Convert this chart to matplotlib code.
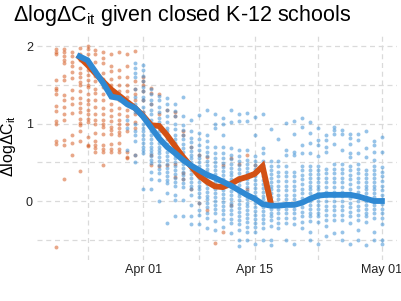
import matplotlib
matplotlib.use("Agg")
import matplotlib.pyplot as plt
import matplotlib.dates as mdates
import numpy as np

# --- Data ---
# scatter columns: one list of values per day
orange_dates = ["2020-03-21", "2020-03-22", "2020-03-23", "2020-03-24", "2020-03-25",
                "2020-03-26", "2020-03-27", "2020-03-28", "2020-03-29", "2020-03-30",
                "2020-03-31", "2020-04-01", "2020-04-02", "2020-04-03", "2020-04-04",
                "2020-04-05", "2020-04-06", "2020-04-07", "2020-04-08", "2020-04-09",
                "2020-04-10", "2020-04-11", "2020-04-12", "2020-04-13", "2020-04-14",
                "2020-04-15"]
orange_cols = [
    [1.97, 1.93, 1.90, 1.57, 1.46, 1.44, 1.38, 1.23, 1.16, 1.03, 1.00, 0.77, 0.74, -0.59],
    [1.97, 1.93, 1.88, 1.82, 1.78, 1.62, 1.57, 1.37, 1.31, 1.22, 1.12, 1.05, 0.79, 0.72, 0.29],
    [1.93, 1.87, 1.80, 1.74, 1.67, 1.59, 1.44, 1.33, 1.25, 1.14, 0.85, 0.75, 0.60],
    [1.98, 1.90, 1.83, 1.72, 1.65, 1.60, 1.54, 1.50, 1.42, 1.33, 1.27, 1.20, 1.15, 1.06, 1.01,
     0.98, 0.90, 0.77, 0.39],
    [2.00, 1.96, 1.90, 1.82, 1.76, 1.70, 1.63, 1.57, 1.50, 1.47, 1.38, 1.30, 1.25, 1.18, 1.12,
     1.06, 1.02, 0.83, 0.73, 0.71],
    [1.95, 1.90, 1.80, 1.70, 1.62, 1.55, 1.45, 1.40, 1.30, 1.22, 1.12, 1.05, 1.00, 0.88, 0.78,
     0.72, 0.68, 0.64],
    [1.93, 1.85, 1.78, 1.65, 1.58, 1.48, 1.38, 1.30, 1.20, 1.12, 1.05, 1.00, 0.96, 0.87, 0.72,
     0.67, 0.64, 0.46],
    [1.90, 1.75, 1.68, 1.58, 1.50, 1.42, 1.35, 1.25, 1.18, 1.10, 1.04, 0.96, 0.92, 0.87, 0.74,
     0.67, 0.63],
    [1.93, 1.70, 1.60, 1.50, 1.42, 1.36, 1.30, 1.20, 1.12, 1.05, 0.99, 0.95, 0.89, 0.85, 0.75,
     0.67, 0.63],
    [1.90, 1.75, 1.60, 1.50, 1.42, 1.35, 1.25, 1.18, 1.10, 1.00, 0.90, 0.63, 0.57, 0.55],
    [1.94, 1.55, 1.45, 1.38, 1.30, 1.20, 1.12, 1.02, 0.95, 0.60],
    [1.60, 1.55, 1.50, 1.42, 1.30, 1.15],
    [1.46, 1.40, 1.25, 0.60, 0.47],
    [1.39, 1.13, 0.45],
    [1.18, 0.85, 0.47],
    [1.15, 1.10, 0.48, 0.31],
    [0.90, 0.86, 0.36, 0.29],
    [0.70, 0.16],
    [0.60, -0.03],
    [0.57, -0.12],
    [0.30, -0.54],
    [0.47, -0.40],
    [0.55, -0.05],
    [0.48],
    [0.60, 0.15],
    [0.47],
]

blue_dates = ["2020-03-30", "2020-03-31", "2020-04-01", "2020-04-02", "2020-04-03",
              "2020-04-04", "2020-04-05", "2020-04-06", "2020-04-07", "2020-04-08",
              "2020-04-09", "2020-04-10", "2020-04-11", "2020-04-12", "2020-04-13",
              "2020-04-14", "2020-04-15", "2020-04-16", "2020-04-17", "2020-04-18",
              "2020-04-19", "2020-04-20", "2020-04-21", "2020-04-22", "2020-04-23",
              "2020-04-24", "2020-04-25", "2020-04-26", "2020-04-27", "2020-04-28",
              "2020-04-29", "2020-04-30", "2020-05-01"]
blue_cols = [
    [1.05, 0.95, 0.66],
    [1.78, 1.72, 1.65, 1.60, 1.45, 1.35, 1.25, 1.15, 1.00, 0.90, 0.85, 0.78, 0.60, 0.50],
    [1.76, 1.70, 1.62, 1.55, 1.48, 1.42, 1.35, 1.30, 1.22, 1.15, 1.08, 1.00, 0.95, 0.90, 0.85,
     0.80, 0.75, 0.70, 0.66, 0.62, 0.15],
    [1.45, 1.38, 1.30, 1.25, 1.18, 1.12, 1.05, 1.00, 0.95, 0.90, 0.85, 0.80, 0.75, 0.70, 0.66,
     0.62, 0.58, 0.53, 0.49, 0.38, 0.29, 0.15],
    [1.36, 1.30, 1.22, 1.15, 1.08, 1.02, 0.96, 0.90, 0.85, 0.80, 0.75, 0.70, 0.66, 0.62, 0.57,
     0.52, 0.47, 0.42, 0.36, 0.27, 0.00],
    [1.33, 1.25, 1.18, 1.10, 1.02, 0.95, 0.90, 0.85, 0.80, 0.74, 0.68, 0.63, 0.58, 0.53, 0.48,
     0.43, 0.37, 0.32, 0.27, 0.23, 0.10, -0.29],
    [1.26, 1.16, 1.10, 1.00, 0.93, 0.86, 0.80, 0.75, 0.70, 0.65, 0.60, 0.55, 0.50, 0.45, 0.40,
     0.35, 0.30, 0.25, 0.20, 0.08, 0.01, -0.19],
    [1.35, 1.10, 0.98, 0.92, 0.85, 0.80, 0.74, 0.68, 0.63, 0.58, 0.53, 0.48, 0.43, 0.38, 0.33,
     0.28, 0.23, 0.18, 0.01, -0.19],
    [1.05, 0.90, 0.82, 0.76, 0.70, 0.65, 0.60, 0.55, 0.50, 0.45, 0.40, 0.35, 0.30, 0.25, 0.20,
     0.15, 0.08, -0.05, -0.20, -0.30],
    [1.11, 0.88, 0.80, 0.72, 0.66, 0.60, 0.55, 0.50, 0.45, 0.40, 0.35, 0.30, 0.25, 0.20, 0.15,
     0.10, 0.05, -0.03, -0.12, -0.18, -0.30],
    [1.18, 0.85, 0.78, 0.70, 0.64, 0.58, 0.52, 0.47, 0.42, 0.37, 0.32, 0.27, 0.22, 0.17, 0.12,
     0.07, 0.02, -0.03, -0.08, -0.16, -0.22, -0.35],
    [1.13, 1.00, 0.94, 0.70, 0.62, 0.56, 0.50, 0.45, 0.40, 0.35, 0.30, 0.25, 0.20, 0.15, 0.10,
     0.05, 0.00, -0.05, -0.10, -0.16, -0.26, -0.38],
    [1.07, 1.00, 0.85, 0.70, 0.62, 0.55, 0.49, 0.44, 0.39, 0.34, 0.29, 0.24, 0.19, 0.14, 0.09,
     0.04, -0.01, -0.06, -0.11, -0.17, -0.23, -0.33],
    [1.18, 1.02, 0.68, 0.60, 0.54, 0.48, 0.43, 0.38, 0.33, 0.28, 0.23, 0.18, 0.13, 0.08, 0.03,
     -0.02, -0.07, -0.12, -0.17, -0.23, -0.29, -0.42],
    [1.13, 1.03, 0.66, 0.58, 0.52, 0.46, 0.41, 0.36, 0.31, 0.26, 0.21, 0.16, 0.11, 0.06, 0.01,
     -0.04, -0.09, -0.14, -0.19, -0.24, -0.30, -0.38, -0.50, -0.58],
    [1.14, 1.03, 0.66, 0.53, 0.48, 0.43, 0.38, 0.33, 0.28, 0.23, 0.18, 0.13, 0.08, 0.03, -0.02,
     -0.07, -0.12, -0.17, -0.22, -0.27, -0.33, -0.40, -0.50],
    [1.09, 0.86, 0.58, 0.52, 0.47, 0.42, 0.37, 0.32, 0.27, 0.22, 0.17, 0.12, 0.07, 0.02, -0.03,
     -0.08, -0.13, -0.18, -0.23, -0.28, -0.33, -0.40, -0.55],
    [1.13, 0.68, 0.62, 0.52, 0.47, 0.42, 0.37, 0.32, 0.27, 0.22, 0.17, 0.12, 0.07, 0.02, -0.03,
     -0.08, -0.13, -0.18, -0.23, -0.28, -0.35, -0.50],
    [0.93, 0.52, 0.45, 0.40, 0.35, 0.30, 0.25, 0.20, 0.15, 0.10, 0.05, 0.00, -0.05, -0.10,
     -0.15, -0.20, -0.25, -0.32, -0.50, -0.57],
    [0.80, 0.52, 0.45, 0.38, 0.32, 0.26, 0.20, 0.14, 0.08, 0.02, -0.04, -0.10, -0.16, -0.22,
     -0.28, -0.35],
    [1.01, 0.66, 0.60, 0.45, 0.38, 0.32, 0.26, 0.20, 0.14, 0.08, 0.02, -0.04, -0.10, -0.16,
     -0.22, -0.28, -0.50],
    [1.04, 0.87, 0.64, 0.59, 0.38, 0.32, 0.26, 0.20, 0.14, 0.08, 0.02, -0.04, -0.10, -0.16,
     -0.22, -0.30, -0.55],
    [1.08, 0.96, 0.73, 0.62, 0.45, 0.40, 0.34, 0.28, 0.22, 0.16, 0.10, 0.04, -0.02, -0.08,
     -0.14, -0.20, -0.27, -0.35],
    [1.02, 0.88, 0.75, 0.62, 0.45, 0.40, 0.35, 0.30, 0.25, 0.20, 0.15, 0.10, 0.05, 0.00, -0.05,
     -0.10, -0.15, -0.20, -0.26, -0.40, -0.50],
    [0.94, 0.79, 0.72, 0.58, 0.45, 0.40, 0.35, 0.30, 0.25, 0.20, 0.15, 0.10, 0.05, 0.00, -0.05,
     -0.10, -0.15, -0.20, -0.27, -0.55],
    [0.85, 0.79, 0.70, 0.64, 0.42, 0.36, 0.30, 0.24, 0.18, 0.12, 0.06, 0.00, -0.06, -0.12,
     -0.18, -0.24, -0.32, -0.45],
    [0.96, 0.92, 0.87, 0.74, 0.48, 0.42, 0.36, 0.30, 0.24, 0.18, 0.12, 0.06, 0.00, -0.06,
     -0.12, -0.18, -0.25, -0.42],
    [0.92, 0.87, 0.66, 0.48, 0.42, 0.36, 0.30, 0.24, 0.18, 0.12, 0.06, 0.00, -0.06, -0.12,
     -0.18, -0.25, -0.40, -0.50],
    [0.87, 0.81, 0.74, 0.62, 0.57, 0.45, 0.40, 0.34, 0.28, 0.22, 0.16, 0.10, 0.04, -0.02,
     -0.08, -0.14, -0.20, -0.28, -0.55],
    [0.87, 0.79, 0.62, 0.48, 0.42, 0.36, 0.30, 0.24, 0.18, 0.12, 0.06, 0.00, -0.06, -0.12,
     -0.18, -0.25, -0.38, -0.50],
    [0.90, 0.68, 0.57, 0.40, 0.35, 0.30, 0.25, 0.20, 0.15, 0.10, 0.05, 0.00, -0.05, -0.10,
     -0.15, -0.20, -0.27, -0.57],
    [0.77, 0.72, 0.64, 0.53, 0.45, 0.40, 0.35, 0.30, 0.25, 0.20, 0.15, 0.10, 0.05, 0.00, -0.05,
     -0.10, -0.15, -0.22, -0.40, -0.50],
    [0.83, 0.64, 0.44, 0.38, 0.32, 0.26, 0.20, 0.14, 0.08, 0.02, -0.04, -0.10, -0.16, -0.22,
     -0.30, -0.50, -0.55],
]

# fitted lines
orange_line_dates = ["2020-03-24", "2020-03-25", "2020-03-26", "2020-03-27", "2020-03-28",
                     "2020-03-29", "2020-03-30", "2020-03-31", "2020-04-01", "2020-04-02",
                     "2020-04-03", "2020-04-04", "2020-04-05", "2020-04-06", "2020-04-07",
                     "2020-04-08", "2020-04-09", "2020-04-10", "2020-04-11", "2020-04-12",
                     "2020-04-13", "2020-04-14", "2020-04-15", "2020-04-16", "2020-04-17"]
orange_line = [1.86, 1.76, 1.65, 1.54, 1.44, 1.36, 1.28, 1.20, 1.10, 0.98, 0.97, 0.85, 0.71,
               0.57, 0.45, 0.33, 0.25, 0.19, 0.18, 0.22, 0.28, 0.31, 0.35, 0.45, -0.01]

blue_line_dates = ["2020-03-24", "2020-03-25", "2020-03-26", "2020-03-27", "2020-03-28",
                   "2020-03-29", "2020-03-30", "2020-03-31", "2020-04-01", "2020-04-02",
                   "2020-04-03", "2020-04-04", "2020-04-05", "2020-04-06", "2020-04-07",
                   "2020-04-08", "2020-04-09", "2020-04-10", "2020-04-11", "2020-04-12",
                   "2020-04-13", "2020-04-14", "2020-04-15", "2020-04-16", "2020-04-17",
                   "2020-04-18", "2020-04-19", "2020-04-20", "2020-04-21", "2020-04-22",
                   "2020-04-23", "2020-04-24", "2020-04-25", "2020-04-26", "2020-04-27",
                   "2020-04-28", "2020-04-29", "2020-04-30", "2020-05-01"]
blue_line = [1.87, 1.82, 1.67, 1.52, 1.35, 1.33, 1.25, 1.20, 1.09, 0.95, 0.81, 0.70, 0.62,
             0.53, 0.46, 0.40, 0.34, 0.30, 0.25, 0.20, 0.14, 0.08, 0.03, -0.04, -0.06, -0.06,
             -0.05, -0.05, -0.02, 0.03, 0.07, 0.08, 0.08, 0.08, 0.08, 0.06, 0.03, 0.00, 0.00]

ORANGE = "#D35114"
BLUE = "#2F89D3"

plt.rcParams['font.family'] = ['Liberation Sans', 'DejaVu Sans']
plt.rcParams['mathtext.default'] = 'regular'


def to_num(dates):
    return mdates.date2num(np.array(dates, dtype="datetime64[D]"))


def flatten(dates, cols):
    xs, ys = [], []
    for d, col in zip(to_num(dates), cols):
        xs.extend([d] * len(col))
        ys.extend(col)
    return np.array(xs), np.array(ys)


fig = plt.figure(figsize=(4.01, 3.01), dpi=100)
ax = fig.add_axes([37 / 401, 41 / 301, 360 / 401, 226 / 301])

ox, oy = flatten(orange_dates, orange_cols)
bx, by = flatten(blue_dates, blue_cols)
ax.scatter(ox, oy, s=8, color=ORANGE, alpha=0.5, linewidths=0, zorder=2)
ax.scatter(bx, by, s=8, color=BLUE, alpha=0.5, linewidths=0, zorder=2)

ax.plot(to_num(orange_line_dates), orange_line, color=ORANGE, lw=4.2,
        solid_joinstyle='miter', zorder=3)
ax.plot(to_num(blue_line_dates), blue_line, color=BLUE, lw=4.2,
        solid_joinstyle='miter', zorder=4)

apr1 = to_num(["2020-04-01"])[0]
ax.set_xlim(apr1 - 13.35, apr1 + 31.9)
ax.set_ylim(-0.763, 2.16)

ax.set_xticks(to_num(["2020-04-01", "2020-04-15", "2020-05-01"]))
ax.set_xticks(to_num(["2020-03-25", "2020-04-08", "2020-04-23"]), minor=True)
ax.xaxis.set_major_formatter(mdates.DateFormatter("%b %d"))
ax.set_yticks([0, 1, 2])
ax.set_yticks([-0.5, 0.5, 1.5], minor=True)

ax.grid(True, which='both', color='#DADADA', lw=0.9, ls=(0, (4, 3)), zorder=0)
ax.set_axisbelow(True)
for s in ax.spines.values():
    s.set_visible(False)
ax.tick_params(which='both', length=0, labelsize=9, labelcolor='#222222', pad=3)

fig.text(13 / 401, 1 - 3 / 301, r"ΔlogΔC$_{it}$ given closed K-12 schools",
         fontsize=15.5, ha='left', va='top')
fig.text(8 / 401, 1 - 146 / 301, r"ΔlogΔC$_{it}$", fontsize=11.5, rotation=90,
         ha='center', va='center')

fig.savefig("out.png", dpi=100)
